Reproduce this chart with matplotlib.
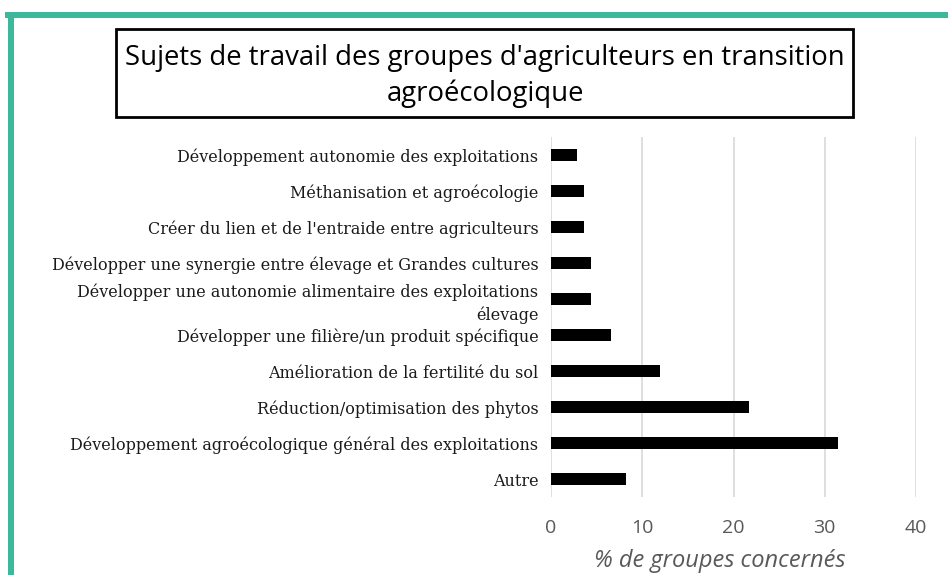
import matplotlib
matplotlib.use("Agg")
import matplotlib.pyplot as plt
import matplotlib.patches as patches

TEAL = "#3db89b"

categories = [
    "Développement autonomie des exploitations",
    "Méthanisation et agroécologie",
    "Créer du lien et de l'entraide entre agriculteurs",
    "Développer une synergie entre élevage et Grandes cultures",
    "Développer une autonomie alimentaire des exploitations\nélevage",
    "Développer une filière/un produit spécifique",
    "Amélioration de la fertilité du sol",
    "Réduction/optimisation des phytos",
    "Développement agroécologique général des exploitations",
    "Autre",
]
values = [2.9, 3.6, 3.6, 4.4, 4.4, 6.6, 11.9, 21.7, 31.5, 8.2]
xticks = [0, 10, 20, 30, 40]

W, H = 948, 575
fig = plt.figure(figsize=(W / 100, H / 100), dpi=100)

# teal frame (top band + left band)
fig.patches.append(patches.Rectangle((5 / W, 1 - 18 / H), 1, 6 / H, transform=fig.transFigure,
                                     facecolor=TEAL, edgecolor="none"))
fig.patches.append(patches.Rectangle((8 / W, 0), 6 / W, 1 - 12 / H, transform=fig.transFigure,
                                     facecolor=TEAL, edgecolor="none"))

# title box
fig.patches.append(patches.Rectangle((116 / W, 1 - 117 / H), 737 / W, 88 / H, transform=fig.transFigure,
                                     facecolor="white", edgecolor="black", linewidth=2))
fig.text(485 / W, 1 - 58 / H, "Sujets de travail des groupes d'agriculteurs en transition",
         ha="center", va="center", fontsize=19.8, family="Open Sans", color="black")
fig.text(485 / W, 1 - 94 / H, "agroécologique",
         ha="center", va="center", fontsize=19.8, family="Open Sans", color="black")

ax = fig.add_axes([551 / W, 1 - 497 / H, (916 - 551) / W, (497 - 137) / H])
ypos = list(range(len(categories)))
ax.barh(ypos, values, height=0.36, color="black", zorder=3)
ax.set_ylim(len(categories) - 0.5, -0.5)
ax.set_xlim(0, 40)
ax.set_xticks(xticks)
ax.set_xticklabels([str(t) for t in xticks], fontsize=14, color="#595959", family="Open Sans")
ax.set_yticks(ypos)
ax.set_yticklabels(categories, fontsize=11.5, family="DejaVu Serif", color="#1a1a1a",
                   linespacing=1.4)
ax.tick_params(axis="both", length=0)
ax.tick_params(axis="x", pad=16)
ax.tick_params(axis="y", pad=9)
ax.grid(axis="x", color="#d9d9d9", linewidth=1.2, zorder=0)
for s in ax.spines.values():
    s.set_visible(False)
ax.set_xlabel("% de groupes concernés", fontsize=17, style="italic", color="#595959",
              family="Open Sans")
ax.xaxis.set_label_coords((720 - 551) / (916 - 551), -0.145)

fig.savefig("out.png", dpi=100)
